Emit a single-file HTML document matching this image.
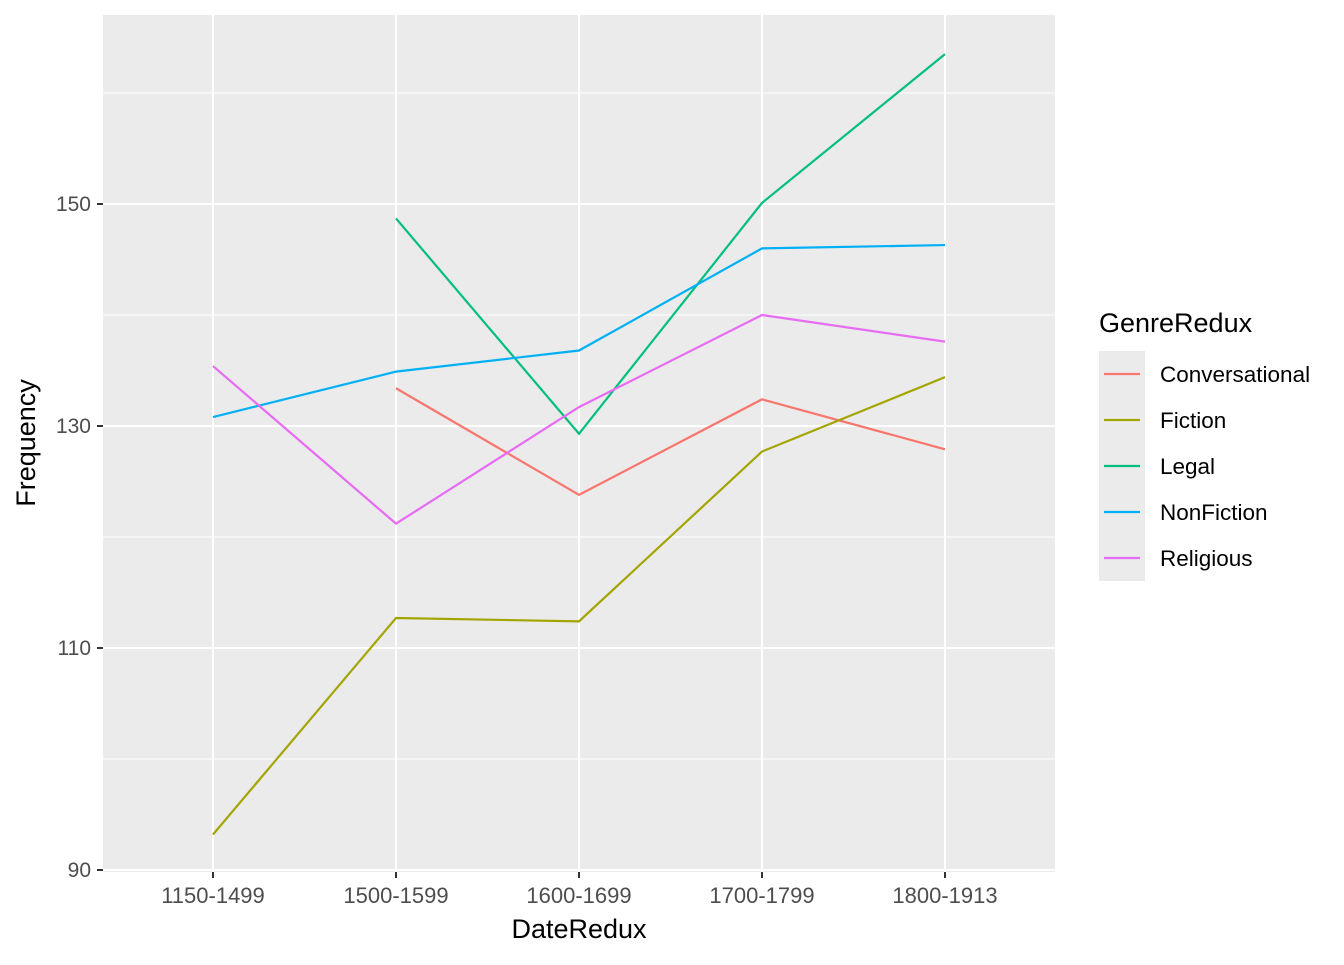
<!DOCTYPE html>
<html><head><meta charset="utf-8"><style>
body{margin:0;background:#fff;}
text{font-family:"Liberation Sans",Arial,sans-serif;}
</style></head><body>
<svg id="chart" width="1344" height="960" xmlns="http://www.w3.org/2000/svg">
<rect x="103" y="15" width="952" height="857" fill="#ebebeb"/>
<g id="grid"></g><g id="lines"></g><g id="axes"></g><g id="legend"></g>
<text x="579" y="938" text-anchor="middle" font-size="27" fill="#000">DateRedux</text>
<text transform="translate(35,443) rotate(-90)" text-anchor="middle" font-size="27" fill="#000">Frequency</text>
</svg>
<script>
const categories=["1150-1499","1500-1599","1600-1699","1700-1799","1800-1913"];
const seriesNames=["Conversational","Fiction","Legal","NonFiction","Religious"];
const colors=["#F8766D","#A3A500","#00BF7D","#00B0F6","#E76BF3"];
const conversational=[null,133.4,123.8,132.4,127.9];
const fiction=[93.2,112.7,112.4,127.7,134.4];
const legal=[null,148.7,129.3,150.1,163.5];
const nonfiction=[130.8,134.9,136.8,146.0,146.3];
const religious=[135.4,121.2,131.7,140.0,137.6];
const yTicks=[90,110,130,150];
const yMinor=[100,120,140,160];
const allSeries=[conversational,fiction,legal,nonfiction,religious];
const NS="http://www.w3.org/2000/svg";
function x(i){return 213+i*(945-213)/(categories.length-1);}
function y(v){return 870-(v-90)*11.1;}
function el(tag,attrs,parent){const e=document.createElementNS(NS,tag);for(const k in attrs)e.setAttribute(k,attrs[k]);parent.appendChild(e);return e;}
const grid=document.getElementById('grid'),lines=document.getElementById('lines'),axes=document.getElementById('axes'),legend=document.getElementById('legend');
yMinor.forEach(v=>{const l=el('line',{x1:103,x2:1055,y1:y(v),y2:y(v),stroke:'#fff','stroke-width':1},grid);

});
yTicks.forEach(v=>{const l=el('line',{x1:103,x2:1055,y1:y(v),y2:y(v),stroke:'#fff','stroke-width':2},grid);


const t=el('line',{x1:97,x2:103,y1:y(v),y2:y(v),stroke:'#333','stroke-width':2},axes);


const tx=el('text',{x:91,y:y(v)+7,'text-anchor':'end','font-size':21,fill:'#4d4d4d'},axes);tx.textContent=v;

});
categories.forEach((c,i)=>{const l=el('line',{x1:x(i),x2:x(i),y1:15,y2:872,stroke:'#fff','stroke-width':2},grid);


const t=el('line',{x1:x(i),x2:x(i),y1:872,y2:878,stroke:'#333','stroke-width':2},axes);


const tx=el('text',{x:x(i),y:903,'text-anchor':'middle','font-size':22,fill:'#4d4d4d'},axes);tx.textContent=c;

});
allSeries.forEach((s,k)=>{const pts=[];s.forEach((v,i)=>{if(v!==null)pts.push(x(i)+','+y(v));});
const p=el('polyline',{points:pts.join(' '),fill:'none',stroke:colors[k],'stroke-width':2.2},lines);

});
const lt=el('text',{x:1099,y:332,'font-size':27,fill:'#000'},legend);lt.textContent='GenreRedux';


const lb=el('rect',{x:1099,y:351,width:46,height:230,fill:'#ebebeb'},legend);


seriesNames.forEach((n,k)=>{const cy=374+k*46;
const l=el('line',{x1:1104,x2:1140,y1:cy,y2:cy,stroke:colors[k],'stroke-width':2.2},legend);


const t=el('text',{x:1160,y:cy+8,'font-size':22.5,fill:'#000'},legend);t.textContent=n;

});
</script>
</body></html>
